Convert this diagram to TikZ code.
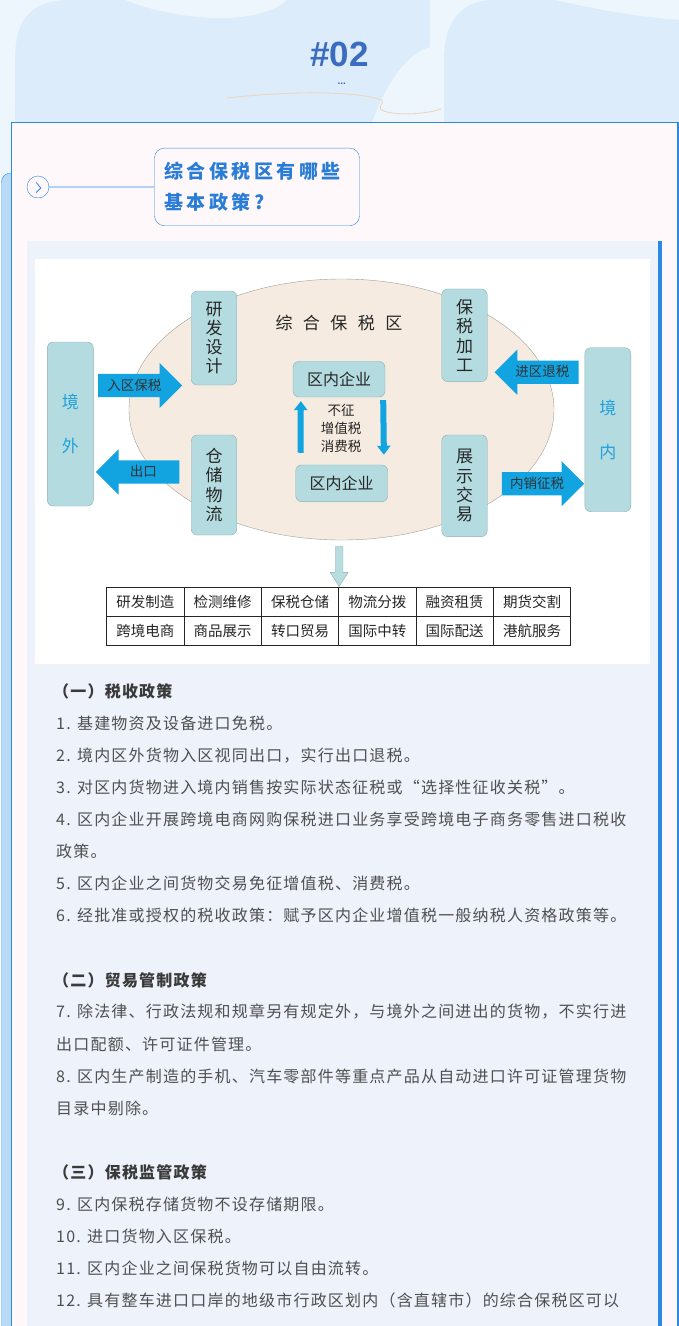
\documentclass[tikz,border=0pt]{standalone}
\usepackage{fontspec}
\setmainfont{Noto Sans CJK SC}
\newfontfamily\numfont{Liberation Sans}
\newfontfamily\spacedfont[LetterSpace=7.5]{Noto Sans CJK SC}
\newfontfamily\titlefont[LetterSpace=18]{Noto Sans CJK SC}
\usepackage{tikz}
\usetikzlibrary{arrows.meta}
\usetikzlibrary{shapes.geometric}
\usetikzlibrary{shapes.arrows}
\usetikzlibrary{calc}

\definecolor{cardblue}{HTML}{2B88E4}
\definecolor{cardpink}{HTML}{FFF8FA}
\definecolor{panel}{HTML}{EDF2FB}
\definecolor{stripblue}{HTML}{B8DAF6}
\definecolor{bgpale}{HTML}{EEF6FD}
\definecolor{bgblob}{HTML}{DCECFB}
\definecolor{titleblue}{HTML}{2A7DD6}
\definecolor{numblue}{HTML}{3B6CBF}
\definecolor{boxfill}{HTML}{B4DCE0}
\definecolor{boxedge}{HTML}{8FAFB2}
\definecolor{skyarrow}{HTML}{12A3E1}
\definecolor{jingtext}{HTML}{22A0DA}
\definecolor{zonefill}{HTML}{F5EBE0}
\definecolor{zoneedge}{HTML}{A3A09B}
\definecolor{dropfill}{HTML}{B7DDDE}
\definecolor{bodygrey}{HTML}{505050}
\definecolor{headgrey}{HTML}{3A3A3A}
\definecolor{curvetan}{HTML}{E9D6C0}

\tikzset{
  tealbox/.style={draw=boxedge, fill=boxfill, rounded corners=6pt, minimum width=45.5pt,
    inner sep=0pt, align=center, text=black!85, font=\fontsize{17}{19.3}\selectfont},
  sidebox/.style={tealbox, minimum width=46pt, minimum height=164pt, text=jingtext,
    font=\fontsize{17}{44}\selectfont},
  firmbox/.style={draw=boxedge, fill=boxfill, rounded corners=6pt, minimum width=92pt,
    minimum height=35.5pt, inner sep=0pt, text=black!85, font=\fontsize{16}{16}\selectfont},
  fatarrow/.style={single arrow, fill=skyarrow, single arrow head extend=11pt,
    single arrow tip angle=90, inner xsep=2pt, inner ysep=6pt, text height=10pt,
    text depth=1pt, text=black!80, font=\fontsize{13.5}{14}\selectfont},
  vflow/.style={draw=skyarrow, line width=6pt, -{Triangle[width=13pt,length=9pt]}},
  droparrow/.style={single arrow, fill=dropfill, draw=boxedge, shape border rotate=270,
    single arrow head extend=5.15pt, single arrow tip angle=65, inner sep=3.65pt,
    minimum height=40pt},
  tablecell/.style={draw=black!85, line width=0.9pt, minimum width=77.33pt,
    minimum height=29pt, inner sep=0pt, text=black!85, font=\fontsize{14.5}{15}\selectfont},
  polline/.style={anchor=west, inner sep=0pt, text=bodygrey,
    font=\spacedfont\fontsize{16}{16}\selectfont},
  polhead/.style={polline, text=headgrey, font=\spacedfont\bfseries\fontsize{16}{16}\selectfont}
}

\begin{document}
\begin{tikzpicture}[x=1pt,y=-1pt]
\useasboundingbox (0,0) rectangle (679,1326);
% draws background
\fill[bgpale] (0,0) rectangle (679,180);
\fill[bgblob] (15,122) -- (15,60) .. controls (15,20) and (30,0) .. (70,0) -- (125,0)
  .. controls (160,14) and (200,19) .. (230,18) .. controls (260,16) and (280,8) .. (287,0)
  -- (430,0) -- (430,47) .. controls (400,55) and (380,100) .. (372,122) -- cycle;
\fill[bgblob] (444,122) -- (444,60) .. controls (444,20) and (462,2) .. (490,0) -- (555,0)
  .. controls (590,8) and (630,16) .. (679,20) -- (679,122) -- cycle;
\draw[curvetan, line width=0.9pt] (227,98) .. controls (300,90) and (360,92) .. (382,100)
  .. controls (386,104) and (372,108) .. (387,112) .. controls (405,116) and (430,113) .. (441,109);
\node[font=\numfont\bfseries\fontsize{35}{35}\selectfont, text=numblue] (badge) at (339.3,54) {\#02};
\node[font=\numfont\bfseries\fontsize{10}{10}\selectfont, text=numblue] (dots) at (341.7,84) {...};
% draws card
\filldraw[draw=cardblue, fill=stripblue, rounded corners=9pt] (11.5,1340) -- (1.5,1340) -- (1.5,173) -- (11.5,173);
\filldraw[draw=cardblue, fill=cardpink, line width=1.2pt] (11.3,122.3) rectangle (678,1340);
\fill[panel] (27,241) rectangle (658,1340);
\fill[cardblue] (658,241) rectangle (662.3,1340);
\fill[white] (35,259) rectangle (650,664);
% title
\node[circle, draw=cardblue, fill=cardpink, minimum size=22pt, inner sep=0pt] (bullet) at (38,187) {};
\draw[cardblue, line width=0.8pt] ($(bullet.center)+(-1.8,-4.5)$) -- ($(bullet.center)+(2.8,1)$) -- ($(bullet.center)+(-1.8,5.5)$);
\node[draw=cardblue, fill=cardpink, rounded corners=10pt, minimum width=205pt, minimum height=77.7pt,
  text width=185pt, align=left, text=titleblue, font=\titlefont\bfseries\fontsize{19}{31}\selectfont]
  (titlebox) at (257,186.9) {综合保税区有哪些\\基本政策?};
\draw[cardblue, line width=0.8pt] (bullet) -- (titlebox);
% draws zone
\node[ellipse, draw=zoneedge, fill=zonefill, minimum width=425pt, minimum height=261pt, inner sep=0pt] (zone) at (341.5,409.5) {};
\node[font=\fontsize{17}{17}\selectfont, text=black!85] (zonename) at (339,323)
  {综\hspace{10.5pt}合\hspace{10.5pt}保\hspace{10.5pt}税\hspace{10.5pt}区};
% draws boxes
\node[sidebox] (abroad) at (70.3,424) {境\\外};
\node[sidebox] (domestic) at (607.8,429.7) {境\\内};
\node[tealbox, minimum height=94pt] (research) at (214,338) {研\\发\\设\\计};
\node[tealbox, minimum height=100pt] (storage) at (214,485) {仓\\储\\物\\流};
\node[tealbox, minimum height=92.7pt] (process) at (464.5,335.3) {保\\税\\加\\工};
\node[tealbox, minimum height=101.7pt] (display) at (464.5,485.8) {展\\示\\交\\易};
\node[firmbox] (topfirm) at (339,379.2) {区内企业};
\node[firmbox, minimum height=36.7pt] (lowfirm) at (341.7,483.3) {区内企业};
\node[align=center, text=black!85, font=\fontsize{13.5}{18}\selectfont] (notax) at (341,428) {不征\\增值税\\消费税};
% draws arrows
\node[fatarrow, minimum height=84pt, anchor=tail] (inbond) at (98,385.5) {入区保税};
\node[fatarrow, minimum height=83.3pt, shape border rotate=180, anchor=tip] (export) at (95.7,472) {出口};
\node[fatarrow, minimum height=84pt, shape border rotate=180, anchor=tip] (refund) at (494.3,372.2) {进区退税};
\node[fatarrow, minimum height=82.3pt, anchor=tail] (levy) at (501.7,483.7) {内销征税};
\draw[vflow] ([xshift=5pt,yshift=12pt]lowfirm.north west) -- ([xshift=8pt,yshift=-4pt]topfirm.south west);
\draw[vflow] ([xshift=-2pt,yshift=-3pt]topfirm.south east) -- ([xshift=-4pt,yshift=10pt]lowfirm.north east);
% draws table
\foreach \lbl [count=\i] in {研发制造,检测维修,保税仓储,物流分拨,融资租赁,期货交割}
  \node[tablecell] (top\i) at (68.03+77.33*\i,601.8) {\lbl};
\foreach \lbl [count=\i] in {跨境电商,商品展示,转口贸易,国际中转,国际配送,港航服务}
  \node[tablecell] (low\i) at (68.03+77.33*\i,630.8) {\lbl};
\node[droparrow, anchor=tip] (drop) at (top3.north east) {};
% policy text
\foreach \k/\txt in {0/{（一）税收政策},9/{（二）贸易管制政策},15/{（三）保税监管政策}}
  \node[polhead] (head\k) at (53,691+32.1*\k) {\txt};
\foreach \k/\txt in {1/{1. 基建物资及设备进口免税。},
  2/{2. 境内区外货物入区视同出口，实行出口退税。},
  3/{3. 对区内货物进入境内销售按实际状态征税或“选择性征收关税”。},
  4/{4. 区内企业开展跨境电商网购保税进口业务享受跨境电子商务零售进口税收},
  5/{政策。},
  6/{5. 区内企业之间货物交易免征增值税、消费税。},
  7/{6. 经批准或授权的税收政策：赋予区内企业增值税一般纳税人资格政策等。},
  10/{7. 除法律、行政法规和规章另有规定外，与境外之间进出的货物，不实行进},
  11/{出口配额、许可证件管理。},
  12/{8. 区内生产制造的手机、汽车零部件等重点产品从自动进口许可证管理货物},
  13/{目录中剔除。},
  16/{9. 区内保税存储货物不设存储期限。},
  17/{10. 进口货物入区保税。},
  18/{11. 区内企业之间保税货物可以自由流转。},
  19/{12. 具有整车进口口岸的地级市行政区划内（含直辖市）的综合保税区可以}}
  \node[polline] (pol\k) at (56,691+32.1*\k) {\txt};
\end{tikzpicture}
\end{document}
